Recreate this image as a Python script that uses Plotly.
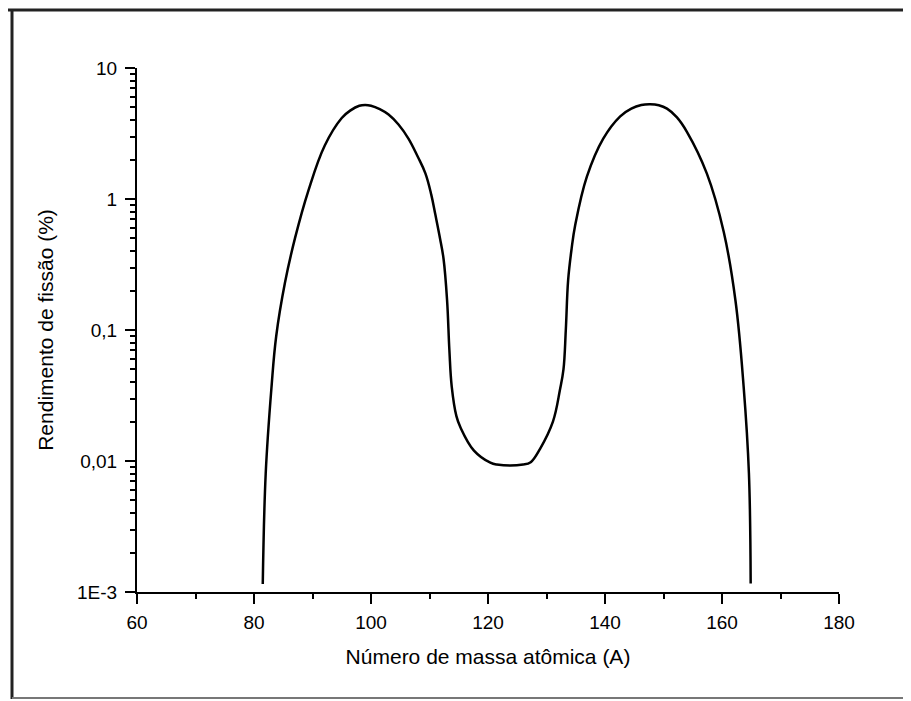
import plotly.graph_objects as go

# Mass number A
mass_number = [81.5, 82.0, 83.0, 83.8, 85.3, 87.0, 89.3, 92.1, 95.0, 96.5, 98.0, 99.0,
               100.0, 101.5, 103.0, 104.7, 106.4, 108.0, 109.3, 110.3, 111.0, 111.8,
               112.4, 113.0, 113.4, 113.8, 114.6, 115.3, 117.6, 120.4, 121.5, 126.0,
               127.3, 128.9, 131.1, 132.3, 132.9, 133.3, 133.7, 134.3, 134.9, 136.9,
               139.7, 142.6, 144.5, 146.2, 147.7, 149.2, 150.6, 152.3, 154.0, 157.4,
               160.3, 162.3, 163.7, 164.6, 164.9]
# Fission yield (%)
fission_yield = [0.00115, 0.008, 0.037, 0.09, 0.23, 0.50, 1.16, 2.56, 4.15, 4.75, 5.15, 5.22,
                 5.15, 4.85, 4.41, 3.7, 2.89, 2.1, 1.57, 1.08, 0.76, 0.5,
                 0.35, 0.17, 0.07, 0.037, 0.022, 0.018, 0.012, 0.0097, 0.0094, 0.0094,
                 0.0098, 0.0124, 0.020, 0.035, 0.05, 0.1, 0.24, 0.42, 0.63, 1.48,
                 2.89, 4.28, 4.9, 5.22, 5.29, 5.2, 4.9, 4.2, 3.26, 1.57,
                 0.56, 0.168, 0.037, 0.0081, 0.00116]

x_ticks = [60, 80, 100, 120, 140, 160, 180]
x_minor = [70, 90, 110, 130, 150, 170]
y_ticks = [0.001, 0.01, 0.1, 1, 10]
y_tick_labels = ["1E-3", "0,01", "0,1", "1", "10"]
y_minor = [m * d for d in [0.001, 0.01, 0.1, 1] for m in range(2, 10)]

OFF = 8  # default page body margin
W, H = 911 - OFF, 701 - OFF
L, R, T, B = 137 - OFF, 72, 68 - OFF, 109
pw, ph = W - L - R, H - T - B

def px(x):  # page pixel -> paper coordinate
    return (x - OFF - L) / pw

def py(y):
    return (H - B - (y - OFF)) / ph

fig = go.Figure()
fig.add_trace(go.Scatter(
    x=mass_number, y=fission_yield, mode="lines",
    line=dict(color="black", width=2.5, shape="spline", smoothing=1.1),
    showlegend=False, hoverinfo="skip"))

fam = "Liberation Sans, Arial, sans-serif"
tick_font = dict(family=fam, size=19, color="black")
title_font = dict(family=fam, size=21, color="black")

fig.update_layout(
    width=W, height=H, autosize=False,
    margin=dict(l=L, r=R, t=T, b=B, pad=0),
    paper_bgcolor="white", plot_bgcolor="white",
    font=tick_font,
    xaxis=dict(
        range=[60, 180], tickvals=x_ticks, ticktext=[str(v) for v in x_ticks],
        showline=True, linecolor="black", linewidth=2, mirror=False,
        ticks="outside", ticklen=10, tickwidth=2, tickcolor="black",
        showgrid=False, zeroline=False, ticklabelstandoff=2,
        minor=dict(tickvals=x_minor, ticks="outside", ticklen=5, tickwidth=2, tickcolor="black", showgrid=False),
        title=dict(text="Número de massa atômica (A)", font=title_font, standoff=18),
        tickfont=tick_font,
    ),
    yaxis=dict(
        type="log", range=[-3, 1], tickvals=y_ticks, ticktext=y_tick_labels,
        showline=True, linecolor="black", linewidth=2, mirror=False,
        ticks="outside", ticklen=10, tickwidth=2, tickcolor="black",
        showgrid=False, zeroline=False, ticklabelstandoff=4,
        minor=dict(tickvals=y_minor, ticks="outside", ticklen=5, tickwidth=2, tickcolor="black", showgrid=False),
        title=dict(text="Rendimento de fissão (%)", font=title_font, standoff=18),
        tickfont=tick_font,
    ),
    shapes=[
        dict(type="line", xref="paper", yref="paper", x0=px(8), x1=px(906), y0=py(10), y1=py(10),
             line=dict(color="#222", width=3)),
        dict(type="line", xref="paper", yref="paper", x0=px(12), x1=px(12), y0=py(9), y1=py(699),
             line=dict(color="#222", width=3)),
        dict(type="line", xref="paper", yref="paper", x0=px(12), x1=px(906), y0=py(698), y1=py(698),
             line=dict(color="#777", width=2)),
        dict(type="line", xref="paper", yref="paper", x0=px(907), x1=px(907), y0=py(10), y1=py(698),
             line=dict(color="#e6e6e6", width=1)),
    ],
)

fig.write_html("out.html")
